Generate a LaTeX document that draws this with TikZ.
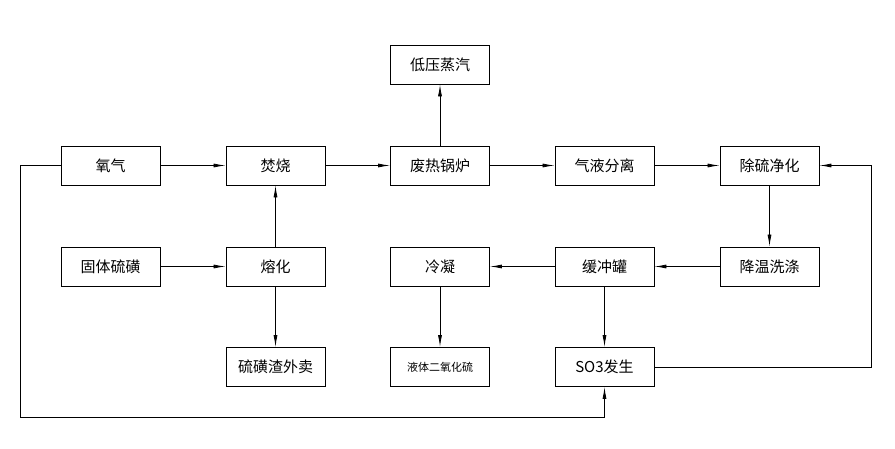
\documentclass[tikz,border=0pt]{standalone}
\usepackage{fontspec}
\setmainfont{Noto Sans CJK SC}
\usetikzlibrary{arrows.meta}
\begin{document}
\begin{tikzpicture}[x=1pt,y=-1pt,
  box/.style={draw,line width=0.9pt,minimum width=99pt,minimum height=39pt,inner sep=0pt,font=\fontsize{15}{15}\selectfont},
  flow/.style={line width=0.8pt,-{Latex[length=12pt,width=4pt]}},
  link/.style={line width=0.8pt}]
\useasboundingbox (0,0) rectangle (895,449);
\node[box] (o2) at (110.5,165.5) {氧气};
\node[box] (burn) at (275.5,165.5) {焚烧};
\node[box] (boiler) at (440,165.5) {废热锅炉};
\node[box] (steam) at (440,64.5) {低压蒸汽};
\node[box] (sep) at (604.5,165.5) {气液分离};
\node[box] (desul) at (769.5,165.5) {除硫净化};
\node[box] (solid) at (110.5,266.5) {固体硫磺};
\node[box] (melt) at (275.5,266.5) {熔化};
\node[box] (cond) at (440,266.5) {冷凝};
\node[box] (buf) at (604.5,266.5) {缓冲罐};
\node[box] (wash) at (769.5,266.5) {降温洗涤};
\node[box] (slag) at (275.5,367) {硫磺渣外卖};
\node[box,font=\fontsize{11}{11}\selectfont] (liq) at (440,367) {液体二氧化硫};
\node[box] (so3) at (604.5,367) {SO3发生};
\coordinate (bl) at (20,417);
\coordinate (tl) at (20,165.5);
\coordinate (br) at (871,367);
\coordinate (tr) at (871,165.5);
\draw[flow] (o2) -- (burn);
\draw[flow] (burn) -- (boiler);
\draw[flow] (boiler) -- (sep);
\draw[flow] (sep) -- (desul);
\draw[flow] (boiler) -- (steam);
\draw[flow] (desul) -- (wash);
\draw[flow] (wash) -- (buf);
\draw[flow] (buf) -- (cond);
\draw[flow] (solid) -- (melt);
\draw[flow] (melt) -- (burn);
\draw[flow] (melt) -- (slag);
\draw[flow] (cond) -- (liq);
\draw[flow] (buf) -- (so3);
\draw[flow] (o2.west) -- (tl) -- (bl) -| (so3.south);
\draw[flow] (so3.east) -- (br) -- (tr) -- (desul.east);
\end{tikzpicture}
\end{document}
